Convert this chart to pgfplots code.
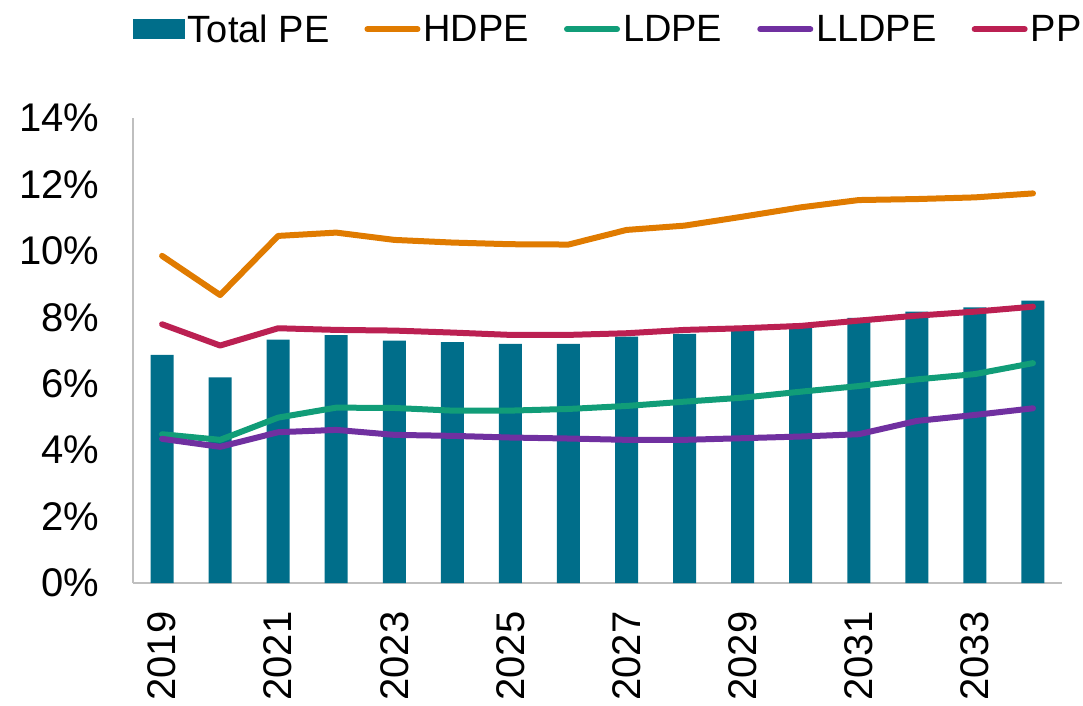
\documentclass[border=0pt]{standalone}
\usepackage{pgfplots}
\pgfplotsset{compat=1.18}
\usepackage{fontspec}
\setmainfont{Liberation Sans}
\definecolor{cPE}{RGB}{0,110,138}
\definecolor{cHD}{RGB}{224,123,0}
\definecolor{cLD}{RGB}{17,157,120}
\definecolor{cLL}{RGB}{112,48,160}
\definecolor{cPP}{RGB}{187,32,82}
\begin{document}
\begin{tikzpicture}
\begin{axis}[
  scale only axis, width=929pt, height=465pt,
  xmin=2018.5, xmax=2034.5, ymin=0, ymax=14,
  axis x line*=bottom, axis y line*=left,
  axis line style={draw=black!25, line width=1.5pt, -},
  major tick length=0pt,
  xtick={2019,2021,...,2033},
  xticklabels={2019,2021,2023,2025,2027,2029,2031,2033},
  xticklabel style={rotate=90, anchor=east, font=\fontsize{40}{42}\selectfont},
  xticklabel shift=25pt,
  ytick={0,2,...,14},
  yticklabels={0\%,2\%,4\%,6\%,8\%,10\%,12\%,14\%},
  yticklabel style={font=\fontsize{40}{42}\selectfont},
  yticklabel shift=30pt,
  legend columns=5,
  legend style={at={(0.512,1.191)}, anchor=center, draw=none, fill=none,
    font=\fontsize{38}{40}\selectfont,
    nodes={inner xsep=3pt, inner ysep=2pt},
    /tikz/every even column/.append style={column sep=32pt}},
  legend image code/.code={\draw[#1, line width=6pt, line cap=round] (0pt,0pt) -- (50pt,0pt);},
]
\coordinate (BL) at (rel axis cs:-0.1432,-0.2645);
\coordinate (TR) at (rel axis cs:1.0226,1.2538);
\addplot[ybar, bar width=23pt, bar shift=0pt, fill=cPE, draw=none,
  legend image code/.code={\fill[cPE] (0pt,-10pt) rectangle (52pt,10pt);}]
  coordinates {(2019,6.87)(2020,6.19)(2021,7.33)(2022,7.46)(2023,7.30)(2024,7.25)(2025,7.20)(2026,7.20)(2027,7.42)(2028,7.50)(2029,7.59)(2030,7.80)(2031,7.98)(2032,8.17)(2033,8.30)(2034,8.50)};
\addlegendentry{Total PE}
\addplot[cHD, line width=6pt, line join=round, line cap=round, mark=none]
  coordinates {(2019,9.85)(2020,8.67)(2021,10.45)(2022,10.55)(2023,10.33)(2024,10.25)(2025,10.20)(2026,10.19)(2027,10.63)(2028,10.76)(2029,11.03)(2030,11.31)(2031,11.53)(2032,11.56)(2033,11.61)(2034,11.73)};
\addlegendentry{HDPE}
\addplot[cLD, line width=6pt, line join=round, line cap=round, mark=none]
  coordinates {(2019,4.48)(2020,4.31)(2021,4.98)(2022,5.28)(2023,5.27)(2024,5.19)(2025,5.19)(2026,5.24)(2027,5.33)(2028,5.46)(2029,5.58)(2030,5.76)(2031,5.93)(2032,6.13)(2033,6.29)(2034,6.62)};
\addlegendentry{LDPE}
\addplot[cLL, line width=6pt, line join=round, line cap=round, mark=none]
  coordinates {(2019,4.34)(2020,4.10)(2021,4.54)(2022,4.61)(2023,4.46)(2024,4.43)(2025,4.38)(2026,4.35)(2027,4.31)(2028,4.31)(2029,4.36)(2030,4.41)(2031,4.48)(2032,4.88)(2033,5.06)(2034,5.26)};
\addlegendentry{LLDPE}
\addplot[cPP, line width=6pt, line join=round, line cap=round, mark=none]
  coordinates {(2019,7.79)(2020,7.15)(2021,7.67)(2022,7.62)(2023,7.60)(2024,7.54)(2025,7.47)(2026,7.47)(2027,7.52)(2028,7.62)(2029,7.67)(2030,7.74)(2031,7.90)(2032,8.05)(2033,8.17)(2034,8.32)};
\addlegendentry{PP}
\end{axis}
\pgfresetboundingbox
\useasboundingbox (BL) rectangle (TR);
\end{tikzpicture}
\end{document}
